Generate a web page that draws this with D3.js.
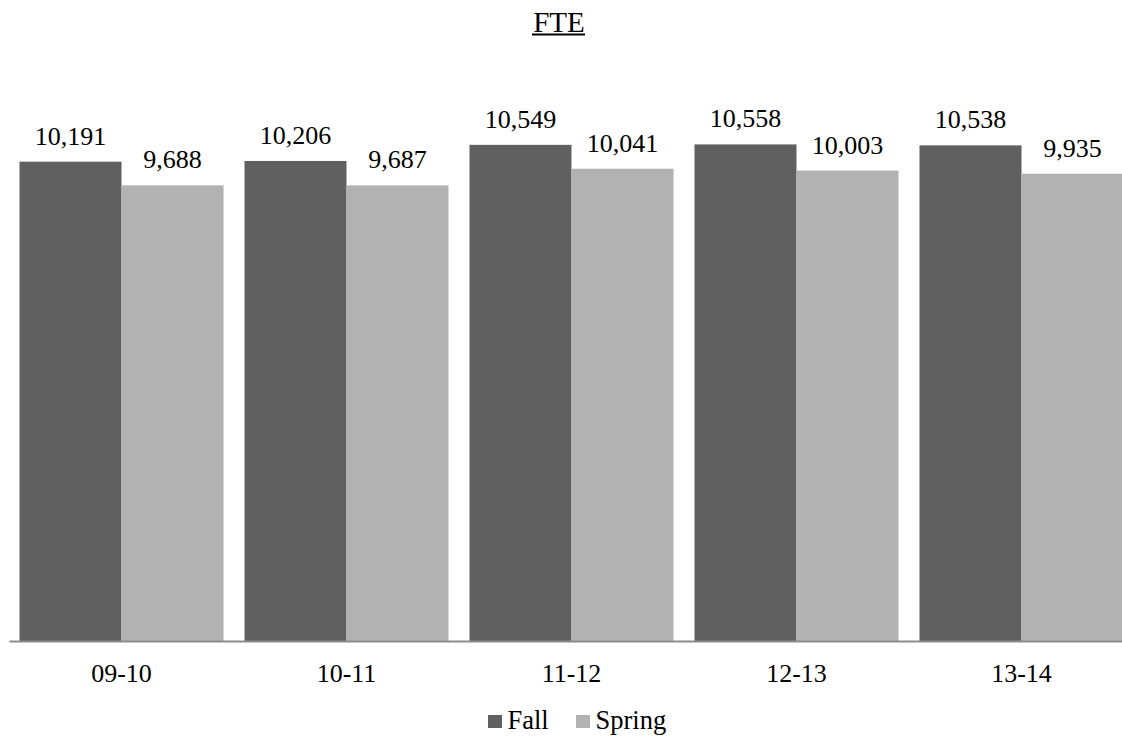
<!DOCTYPE html>
<html><head><meta charset="utf-8">
<script src="https://cdn.jsdelivr.net/npm/d3@7"></script>
<style>body{margin:0;background:#fff}svg{display:block}</style>
</head><body><svg id="c" width="1122" height="738"></svg>
<script>
const categories = ["09-10","10-11","11-12","12-13","13-14"];
const seriesNames = ["Fall","Spring"];
const fall = [10191,10206,10549,10558,10538];
const spring = [9688,9687,10041,10003,9935];
const colors = ["#606060","#b2b2b2"];

const FONT = "'Liberation Serif', 'Times New Roman', Times, serif";
const svg = d3.select("#c");
const left = 9, right = 1134, baseY = 641, topY = 76.6;
const x0 = d3.scaleBand().domain(categories).range([left,right]).paddingInner(0.0933).paddingOuter(0.0467);
const x1 = d3.scaleBand().domain(seriesNames).range([0,x0.bandwidth()]);
const y = d3.scaleLinear().domain([0,12000]).range([baseY,topY]);
const data = categories.map((c,i)=>({cat:c,vals:[fall[i],spring[i]]}));
const fmt = d3.format(",");

const g = svg.selectAll("g.cat").data(data).enter().append("g").attr("transform",d=>`translate(${x0(d.cat)},0)`);
g.selectAll("rect").data(d=>d.vals.map((v,j)=>({s:seriesNames[j],v,j}))).enter().append("rect")
  .attr("x",d=>x1(d.s)).attr("width",x1.bandwidth()).attr("y",d=>y(d.v)).attr("height",d=>baseY-y(d.v)).attr("fill",d=>colors[d.j]);
g.selectAll("text.lab").data(d=>d.vals.map((v,j)=>({s:seriesNames[j],v,j}))).enter().append("text")
  .attr("class","lab").attr("x",d=>x1(d.s)+x1.bandwidth()/2).attr("y",d=>y(d.v)-17).attr("text-anchor","middle")
  .attr("font-family",FONT).attr("font-size",26).attr("fill","#000").text(d=>fmt(d.v));

const ax = svg.append("g").attr("transform",`translate(0,${baseY})`).call(d3.axisBottom(x0).tickSize(0).tickPadding(0));
ax.attr("font-family",FONT).attr("font-size",26);
ax.select(".domain").attr("stroke","#8c8c8c").attr("stroke-width",2);
ax.selectAll("text").attr("y",40.5).attr("dy",0).attr("fill","#000");

svg.append("text").attr("x",559).attr("y",32).attr("text-anchor","middle")
  .attr("font-family",FONT).attr("font-size",29).attr("fill","#000").text("FTE");
svg.append("line").attr("x1",532).attr("x2",585).attr("y1",34.5).attr("y2",34.5).attr("stroke","#000").attr("stroke-width",2);

const leg = svg.append("g");
const legX = [488,576];
seriesNames.forEach((s,i)=>{
  leg.append("rect").attr("x",legX[i]).attr("y",715).attr("width",14).attr("height",13).attr("fill",colors[i]);
  leg.append("text").attr("x",legX[i]+19.5).attr("y",729).attr("font-family",FONT).attr("font-size",26.5).attr("fill","#000").text(s);
});
</script></body></html>
